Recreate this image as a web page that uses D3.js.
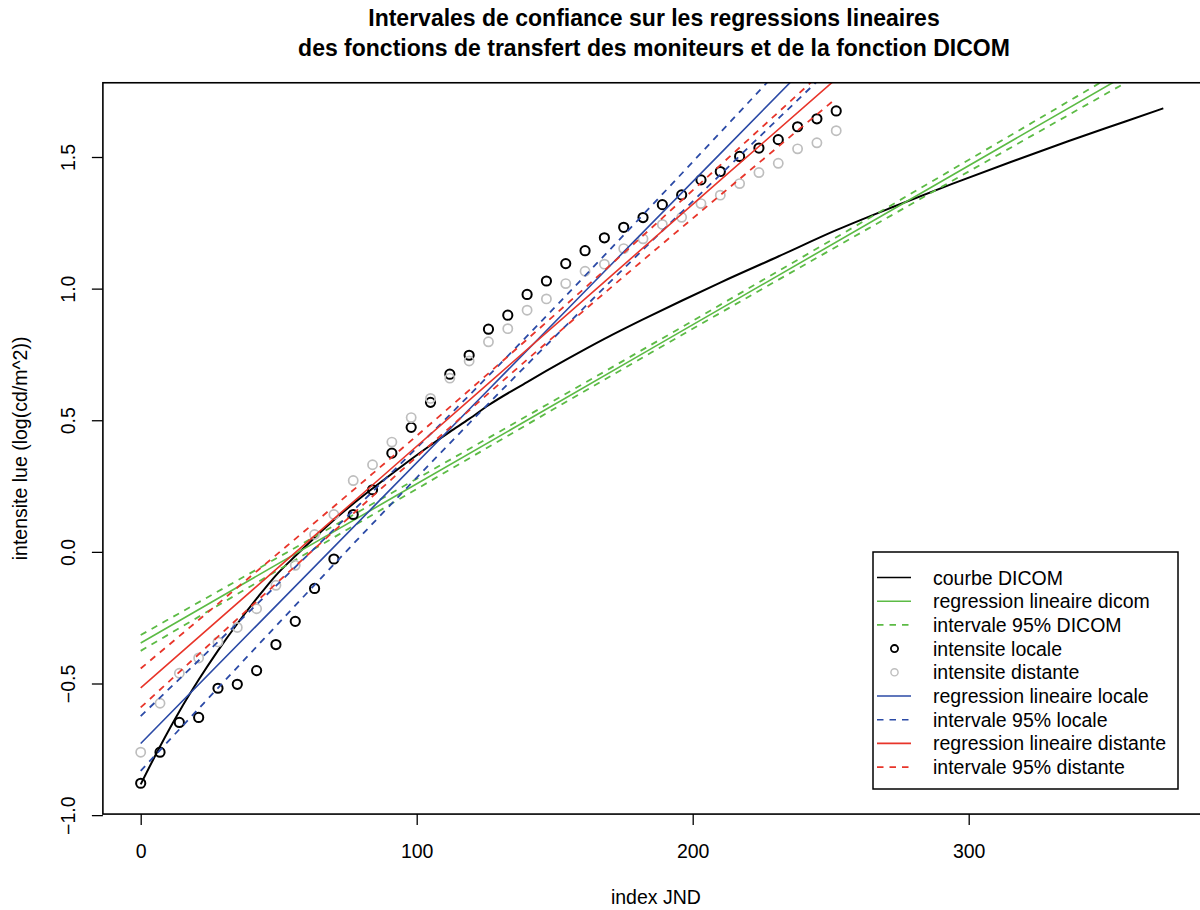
<!DOCTYPE html>
<html lang="fr">
<head>
<meta charset="UTF-8">
<title>Intervales de confiance</title>
<style>
  body { margin: 0; background: #fff; }
  text { font-family: "Liberation Sans", Arial, Helvetica, sans-serif; fill: #000; }
</style>
</head>
<body>
<script src="https://d3js.org/d3.v7.min.js"></script>
<script>
// dimensions de la figure
let width = 1200;
let height = 910;

// --- donnees ---
// index JND des mesures
const jnd = [0, 7, 14, 21, 28, 35, 42, 49, 56, 63, 70, 77, 84, 91, 98, 105, 112, 119, 126,
  133, 140, 147, 154, 161, 168, 175, 182, 189, 196, 203, 210, 217, 224, 231, 238, 245, 252];
const intensiteLocale = [-0.879, -0.761, -0.648, -0.629, -0.518, -0.503, -0.451, -0.352, -0.264,
  -0.139, -0.027, 0.142, 0.236, 0.375, 0.473, 0.568, 0.675, 0.747, 0.846, 0.899, 0.978, 1.029,
  1.095, 1.144, 1.193, 1.233, 1.270, 1.319, 1.356, 1.413, 1.445, 1.502, 1.534, 1.566, 1.615, 1.645, 1.675];
const intensiteDistante = [-0.761, -0.575, -0.461, -0.403, -0.342, -0.287, -0.216, -0.127, -0.051,
  0.066, 0.142, 0.271, 0.331, 0.417, 0.510, 0.583, 0.660, 0.725, 0.798, 0.848, 0.918, 0.961,
  1.019, 1.066, 1.093, 1.152, 1.189, 1.244, 1.271, 1.323, 1.355, 1.399, 1.441, 1.476, 1.531, 1.554, 1.600];

// courbe DICOM
const dicomX = [0, 7, 14, 21, 28, 35, 42, 49, 56, 63, 70, 77, 84, 91, 98, 105, 112, 119, 126,
  140, 154, 168, 182, 196, 210, 231, 252, 273, 294, 315, 336, 357, 370.5];
const dicomY = [-0.883, -0.739, -0.606, -0.486, -0.375, -0.273, -0.178, -0.089, -0.016, 0.054, 0.121,
  0.183, 0.241, 0.297, 0.352, 0.405, 0.456, 0.505, 0.557, 0.645, 0.729, 0.809, 0.883, 0.954, 1.023,
  1.122, 1.222, 1.312, 1.398, 1.480, 1.560, 1.636, 1.685];

// regressions et intervalles 95%
const fitX = [0, 42, 84, 126, 168, 210, 252];
const localeFit = [-0.728, -0.280, 0.168, 0.616, 1.065, 1.513, 1.961];
const localeHaut = [-0.624, -0.200, 0.229, 0.669, 1.126, 1.593, 2.065];
const localeBas = [-0.832, -0.360, 0.107, 0.563, 1.004, 1.433, 1.857];
const distanteFit = [-0.517, -0.131, 0.254, 0.640, 1.026, 1.412, 1.797];
const distanteHaut = [-0.443, -0.074, 0.297, 0.678, 1.069, 1.469, 1.871];
const distanteBas = [-0.591, -0.188, 0.211, 0.602, 0.983, 1.355, 1.723];
const dicomFitX = [0, 92.5, 185, 277.5, 370.5];
const dicomFit = [-0.346, 0.213, 0.772, 1.331, 1.893];
const dicomHaut = [-0.316, 0.233, 0.787, 1.351, 1.923];
const dicomBas = [-0.376, 0.193, 0.757, 1.311, 1.863];

// graduations
const xTicks = [0, 100, 200, 300];
const yTicks = [-1.0, -0.5, 0.0, 0.5, 1.0, 1.5];

const legendLabels = ['courbe DICOM', 'regression lineaire dicom', 'intervale 95% DICOM',
  'intensite locale', 'intensite distante', 'regression lineaire locale', 'intervale 95% locale',
  'regression lineaire distante', 'intervale 95% distante'];

// couleurs
const vert = '#5cbb45', bleu = '#2b4aa6', rouge = '#e8352a', gris = '#bebebe';
const dash = '6.5,6';

// echelles
let xScale = d3.scaleLinear().domain([0, 300]).range([140.7, 968.7]);
let yScale = d3.scaleLinear().domain([-0.5, 1.5]).range([683.5, 157]);
const xLim = [-13.7, 387];
const yLim = [-0.996, 1.782];

let svg = d3.select('body').append('svg')
  .attr('width', width).attr('height', height);

let x0 = xScale(xLim[0]), x1 = xScale(xLim[1]);
let y0 = yScale(yLim[1]), y1 = yScale(yLim[0]);

svg.append('clipPath').attr('id', 'zone')
  .append('rect').attr('x', x0).attr('y', y0).attr('width', x1 - x0).attr('height', y1 - y0);

// titre
let titre = ['Intervales de confiance sur les regressions lineaires',
  'des fonctions de transfert des moniteurs et de la fonction DICOM'];
svg.selectAll('.titre').data(titre).enter().append('text')
  .attr('class', 'titre')
  .attr('x', 654).attr('y', (d, i) => 26 + i * 30)
  .attr('text-anchor', 'middle')
  .attr('font-size', '23px').attr('font-weight', 'bold')
  .text(d => d);

// axes
let xAxis = d3.axisBottom(xScale).tickValues(xTicks).tickSize(11).tickPadding(19)
  .tickFormat(d3.format('d'));
let gx = svg.append('g').attr('transform', 'translate(0,' + y1 + ')').call(xAxis);
gx.select('.domain').remove();
gx.selectAll('line').attr('stroke', '#000').attr('stroke-width', 1.3);
gx.selectAll('text').attr('font-size', '19.5px').attr('fill', '#000')
  .style('font-family', '"Liberation Sans", Arial, sans-serif');

let yAxis = d3.axisLeft(yScale).tickValues(yTicks).tickSize(11).tickFormat(d3.format('.1f'));
let gy = svg.append('g').attr('transform', 'translate(' + x0 + ',0)').call(yAxis);
gy.select('.domain').remove();
gy.selectAll('line').attr('stroke', '#000').attr('stroke-width', 1.3);
gy.selectAll('text')
  .attr('transform', 'rotate(-90)')
  .attr('x', 0).attr('y', -28).attr('dy', 0)
  .attr('text-anchor', 'middle')
  .attr('font-size', '19.5px').attr('fill', '#000')
  .style('font-family', '"Liberation Sans", Arial, sans-serif');

svg.append('text')
  .attr('x', (x0 + x1) / 2).attr('y', 904)
  .attr('text-anchor', 'middle').attr('font-size', '19.5px')
  .text('index JND');
svg.append('text')
  .attr('transform', 'translate(27,' + ((y0 + y1) / 2) + ') rotate(-90)')
  .attr('text-anchor', 'middle').attr('font-size', '19.5px')
  .text('intensite lue (log(cd/m^2))');

// traces
let plot = svg.append('g').attr('clip-path', 'url(#zone)');
let line = d3.line().x(d => xScale(d[0])).y(d => yScale(d[1]));
let courbe = d3.line().x(d => xScale(d[0])).y(d => yScale(d[1])).curve(d3.curveMonotoneX);

function trace(xs, ys, color, dashed, lw, gen) {
  plot.append('path')
    .attr('d', (gen || line)(xs.map((x, i) => [x, ys[i]])))
    .attr('fill', 'none')
    .attr('stroke', color)
    .attr('stroke-width', lw)
    .attr('stroke-dasharray', dashed ? dash : null);
}

trace(dicomX, dicomY, '#000', false, 2, courbe);
trace(dicomFitX, dicomFit, vert, false, 1.6);
trace(dicomFitX, dicomHaut, vert, true, 1.8, courbe);
trace(dicomFitX, dicomBas, vert, true, 1.8, courbe);

plot.append('g').selectAll('circle').data(jnd).enter().append('circle')
  .attr('cx', d => xScale(d))
  .attr('cy', (d, i) => yScale(intensiteLocale[i]))
  .attr('r', 4.6).attr('fill', 'none').attr('stroke', '#000').attr('stroke-width', 2);
plot.append('g').selectAll('circle').data(jnd).enter().append('circle')
  .attr('cx', d => xScale(d))
  .attr('cy', (d, i) => yScale(intensiteDistante[i]))
  .attr('r', 4.6).attr('fill', 'none').attr('stroke', gris).attr('stroke-width', 1.7);

trace(fitX, localeFit, bleu, false, 1.6);
trace(fitX, localeHaut, bleu, true, 1.8, courbe);
trace(fitX, localeBas, bleu, true, 1.8, courbe);
trace(fitX, distanteFit, rouge, false, 1.6);
trace(fitX, distanteHaut, rouge, true, 1.8, courbe);
trace(fitX, distanteBas, rouge, true, 1.8, courbe);

// cadre
svg.append('rect')
  .attr('x', x0).attr('y', y0).attr('width', x1 - x0).attr('height', y1 - y0)
  .attr('fill', 'none').attr('stroke', '#000').attr('stroke-width', 1.6);

// legende
let leg = svg.append('g').attr('transform', 'translate(873,552)');
leg.append('rect').attr('width', 305).attr('height', 237)
  .attr('fill', '#fff').attr('stroke', '#000').attr('stroke-width', 1.5);
let styles = [
  { c: '#000', t: 'l' }, { c: vert, t: 'l' }, { c: vert, t: 'd' },
  { c: '#000', t: 'p' }, { c: gris, t: 'p' }, { c: bleu, t: 'l' }, { c: bleu, t: 'd' },
  { c: rouge, t: 'l' }, { c: rouge, t: 'd' }];
let rows = leg.selectAll('.row').data(legendLabels).enter().append('g')
  .attr('transform', (d, i) => 'translate(0,' + (25.5 + i * 23.7) + ')');
rows.each(function (d, i) {
  let g = d3.select(this);
  let s = styles[i];
  if (s.t === 'p') {
    g.append('circle').attr('cx', 21.5).attr('cy', 0).attr('r', 3.6)
      .attr('fill', 'none').attr('stroke', s.c).attr('stroke-width', s.c === gris ? 1.4 : 1.8);
  } else {
    g.append('line').attr('x1', 4).attr('x2', 38).attr('y1', 0).attr('y2', 0)
      .attr('stroke', s.c).attr('stroke-width', 1.6)
      .attr('stroke-dasharray', s.t === 'd' ? dash : null);
  }
  g.append('text').attr('x', 60).attr('y', 7).attr('font-size', '19.5px').text(d);
});
</script>
</body>
</html>
